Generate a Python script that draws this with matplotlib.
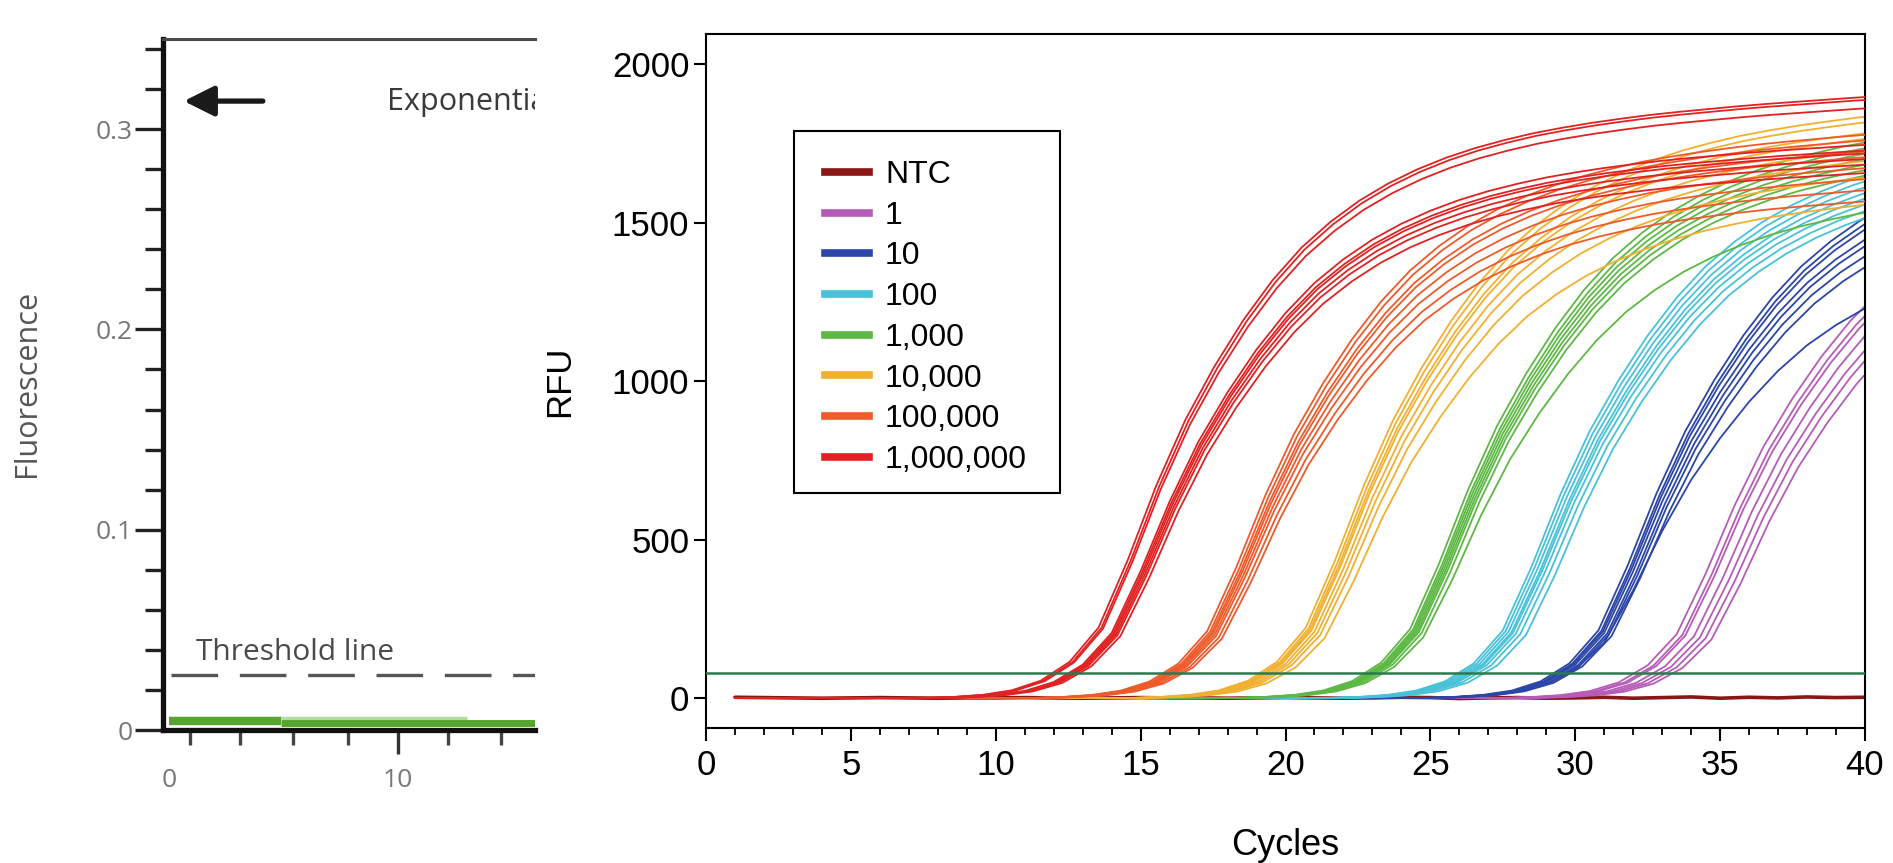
import matplotlib
matplotlib.use("Agg")
import matplotlib.pyplot as plt
from matplotlib.lines import Line2D
from matplotlib.patches import Rectangle
from matplotlib.ticker import FixedLocator, MultipleLocator

# ---------------- data ----------------
# Shared amplification profile (RFU at each cycle)
TEMPLATE_CYCLES = list(range(1, 42))
TEMPLATE_RFU = [0, 0, 0, 0, 0, 0, 0, 0, 3, 9, 22, 50, 105, 205, 400, 620, 810,
                965, 1100, 1215, 1310, 1385, 1447, 1497, 1538, 1572, 1600, 1623,
                1643, 1659, 1673, 1685, 1696, 1705, 1713, 1721, 1728, 1734, 1740,
                1746, 1751]

SERIES = ["NTC", "1", "10", "100", "1,000", "10,000", "100,000", "1,000,000"]
COLORS = ["#8a1616", "#b65cb8", "#2c46a8", "#48c2d8", "#5db845", "#f2b030",
          "#ee5a2a", "#e02222"]

# per-replicate horizontal offset (cycles) and plateau factor, per dilution
SHIFTS = {
    "1":         [19.5, 19.7, 19.8, 20.1, 20.3, 20.5, 20.7],
    "10":        [16.8, 16.9, 16.95, 17.0, 17.1, 17.15, 17.25, 17.0],
    "100":       [13.5, 13.6, 13.7, 13.8, 13.85, 13.95, 14.1, 14.3],
    "1,000":     [10.3, 10.4, 10.45, 10.5, 10.55, 10.6, 10.7, 10.75],
    "10,000":    [6.7, 6.8, 6.85, 6.9, 7.0, 7.1, 7.2, 7.35],
    "100,000":   [3.3, 3.4, 3.45, 3.5, 3.55, 3.6, 3.7, 3.8],
    "1,000,000": [-0.45, -0.35, -0.3, 0.0, 0.05, 0.1, 0.15, 0.2, 0.3],
}
SCALES = {
    "1":         [0.98, 0.97, 0.96, 0.95, 0.93, 0.92, 0.90],
    "10":        [1.04, 1.03, 1.02, 1.0, 0.99, 0.97, 0.95, 0.85],
    "100":       [1.04, 1.03, 1.02, 1.01, 1.0, 0.99, 0.98, 0.97],
    "1,000":     [1.06, 1.05, 1.04, 1.03, 1.02, 1.01, 1.0, 0.93],
    "10,000":    [1.08, 1.07, 1.05, 1.04, 1.02, 1.0, 0.97, 0.92],
    "100,000":   [1.03, 1.02, 1.0, 0.99, 0.97, 0.95, 0.93, 0.91],
    "1,000,000": [1.085, 1.08, 1.065, 1.0, 0.99, 0.985, 0.975, 0.965, 0.95],
}
NTC_CYCLES = list(range(1, 41))
NTC_RFU = [2, 1, 0, -1, 0, 1, 0, -1, 0, 0, 1, 0, -1, 0, 1, 0, 0, -1, 0, 1,
           0, -1, 0, 2, 1, -2, 0, 1, -1, 0, 2, -1, 1, 3, -1, 2, 0, 3, 1, 2]
THRESHOLD_RFU = 80

X_TICKS = [0, 5, 10, 15, 20, 25, 30, 35, 40]
Y_TICKS = [0, 500, 1000, 1500, 2000]

# left (cropped) schematic panel
L_YTICKS = [0, 0.1, 0.2, 0.3]
L_YLABELS = ["0", "0.1", "0.2", "0.3"]
L_YMINOR = [0.02, 0.04, 0.06, 0.08, 0.12, 0.14, 0.16, 0.18, 0.22, 0.24, 0.26,
            0.28, 0.32, 0.34]
L_XTICKS = [0, 10]
L_XLABELS = ["0", "10"]
L_XMINOR = [0.9, 3.1, 5.4, 7.8, 12.2, 14.5]
L_THRESHOLD = 0.0277
L_GREEN_A_X = [0, 4.9]
L_GREEN_A_Y = [0.0045, 0.0045]
L_GREEN_B_X = [4.9, 16]
L_GREEN_B_Y = [0.0035, 0.0035]
L_GREEN_C_X = [0, 13]
L_GREEN_C_Y = [0.0062, 0.0062]

# ---------------- figure ----------------
W, H = 1893, 863
fig = plt.figure(figsize=(W / 100, H / 100), dpi=100)

# ---------- right panel ----------
AX_L, AX_R, AX_T, AX_B = 706, 1865, 34, 728
axR = fig.add_axes([AX_L / W, 1 - AX_B / H, (AX_R - AX_L) / W, (AX_B - AX_T) / H])
RF = "Liberation Sans"


def replicate(shift, scale):
    xs, ys = [1.0], [0.0]
    for c, v in zip(TEMPLATE_CYCLES, TEMPLATE_RFU):
        x = c + shift
        if x > 1.0:
            xs.append(x)
            ys.append(v * scale)
    return xs, ys


axR.plot(NTC_CYCLES, NTC_RFU, color=COLORS[0], lw=2.6, zorder=2,
         solid_capstyle="round")
for i, name in enumerate(SERIES[1:], start=1):
    for s, k in zip(SHIFTS[name], SCALES[name]):
        xs, ys = replicate(s, k)
        axR.plot(xs, ys, color=COLORS[i], lw=1.3, zorder=2 + i * 0.1,
                 solid_capstyle="round", solid_joinstyle="round")

axR.axhline(THRESHOLD_RFU, color="#2a7a4c", lw=1.8, zorder=5)

axR.set_xlim(0, 40)
axR.set_ylim(-95, 2096)
axR.xaxis.set_major_locator(FixedLocator(X_TICKS))
axR.xaxis.set_minor_locator(MultipleLocator(1))
axR.yaxis.set_major_locator(FixedLocator(Y_TICKS))
axR.tick_params(axis="both", which="major", direction="out", length=9,
                width=1.5, labelsize=25, color="black")
axR.tick_params(axis="x", which="minor", direction="out", length=5, width=1.3)
axR.tick_params(axis="x", which="major", pad=6)
axR.tick_params(axis="y", which="major", pad=3)
for lab in axR.get_xticklabels() + axR.get_yticklabels():
    lab.set_fontfamily(RF)
for sp in axR.spines.values():
    sp.set_linewidth(1.5)
    sp.set_color("black")
axR.set_xlabel("Cycles", fontsize=26, fontfamily=RF, labelpad=33)
axR.set_ylabel("RFU", fontsize=25, fontfamily=RF, labelpad=26)


def ax_frac_x(px):
    return (px - AX_L) / (AX_R - AX_L)


def ax_frac_y(py):
    return (AX_B - py) / (AX_B - AX_T)


# legend frame (box) and entries
box_l, box_r, box_t, box_b = 794, 1060, 131, 493
axR.add_patch(Rectangle((ax_frac_x(box_l), ax_frac_y(box_b)),
                        ax_frac_x(box_r) - ax_frac_x(box_l),
                        ax_frac_y(box_t) - ax_frac_y(box_b),
                        transform=axR.transAxes, facecolor="white",
                        edgecolor="black", lw=1.5, zorder=9))
handles = [Line2D([], [], color=c, lw=5.5) for c in COLORS]
leg = axR.legend(handles, SERIES, loc="upper left",
                 bbox_to_anchor=(ax_frac_x(825), ax_frac_y(160)),
                 borderaxespad=0, borderpad=0,
                 prop={"family": RF, "size": 23}, handlelength=1.38,
                 handletextpad=0.5, labelspacing=0.335, frameon=False)
leg.set_zorder(10)

# ---------- left (cropped) panel ----------
axL = fig.add_axes([163 / W, 1 - 730 / H, (535 - 163) / W, (730 - 39) / H])
LF = "Open Sans"
axL.set_xlim(-0.26, 15.98)
axL.set_ylim(0, 0.345)
axL.spines["right"].set_visible(False)
axL.spines["top"].set_color("#4a4a4a")
axL.spines["top"].set_linewidth(2.2)
axL.spines["left"].set_linewidth(3.8)
axL.spines["bottom"].set_linewidth(3.8)
axL.spines["left"].set_color("#111111")
axL.spines["bottom"].set_color("#111111")

axL.set_yticks(L_YTICKS)
axL.set_yticklabels(L_YLABELS)
axL.yaxis.set_minor_locator(FixedLocator(L_YMINOR))
axL.set_xticks(L_XTICKS)
axL.set_xticklabels(L_XLABELS)
axL.xaxis.set_minor_locator(FixedLocator(L_XMINOR))
axL.tick_params(axis="y", which="major", direction="out", length=20, width=2.4,
                color="#222222", labelsize=19, labelcolor="#777777", pad=2)
axL.tick_params(axis="y", which="minor", direction="out", length=13, width=2.4,
                color="#222222")
axL.tick_params(axis="x", which="major", direction="out", length=17, width=2.4,
                color="#333333", labelsize=19, labelcolor="#777777", pad=10)
axL.tick_params(axis="x", which="minor", direction="out", length=11, width=2.4,
                color="#444444")
axL.xaxis.get_major_ticks()[0].tick1line.set_visible(False)
for lab in axL.get_xticklabels() + axL.get_yticklabels():
    lab.set_fontfamily(LF)

axL.plot(L_GREEN_C_X, L_GREEN_C_Y, color="#b3dca0", lw=2.5, solid_capstyle="butt",
         zorder=2)
axL.plot(L_GREEN_A_X, L_GREEN_A_Y, color="#56a530", lw=6, solid_capstyle="butt",
         zorder=3)
axL.plot(L_GREEN_B_X, L_GREEN_B_Y, color="#56a530", lw=5, solid_capstyle="butt",
         zorder=3)
axL.plot([0.1, 16], [L_THRESHOLD, L_THRESHOLD], color="#555555", lw=2.4,
         dashes=(14, 6.5), zorder=3)
axL.text(1.18, 0.035, "Threshold line", fontsize=21.5, fontfamily=LF,
         color="#4a4a4a", ha="left", va="baseline")
axL.text(9.5, 0.3135, "Exponential phase", fontsize=22, fontfamily=LF,
         color="#3a3a3a", ha="left", va="center", clip_on=True)
axL.annotate("", xy=(0.65, 0.314), xytext=(4.1, 0.314),
             arrowprops=dict(arrowstyle="-|>", mutation_scale=46, lw=3.8,
                             color="#1a1a1a", shrinkA=0, shrinkB=0))
fig.text(27 / W, 1 - 383 / H, "Fluorescence", rotation=90, fontsize=22,
         fontfamily=LF, color="#555555", ha="center", va="center")

fig.savefig("out.png", dpi=100, facecolor="white")
